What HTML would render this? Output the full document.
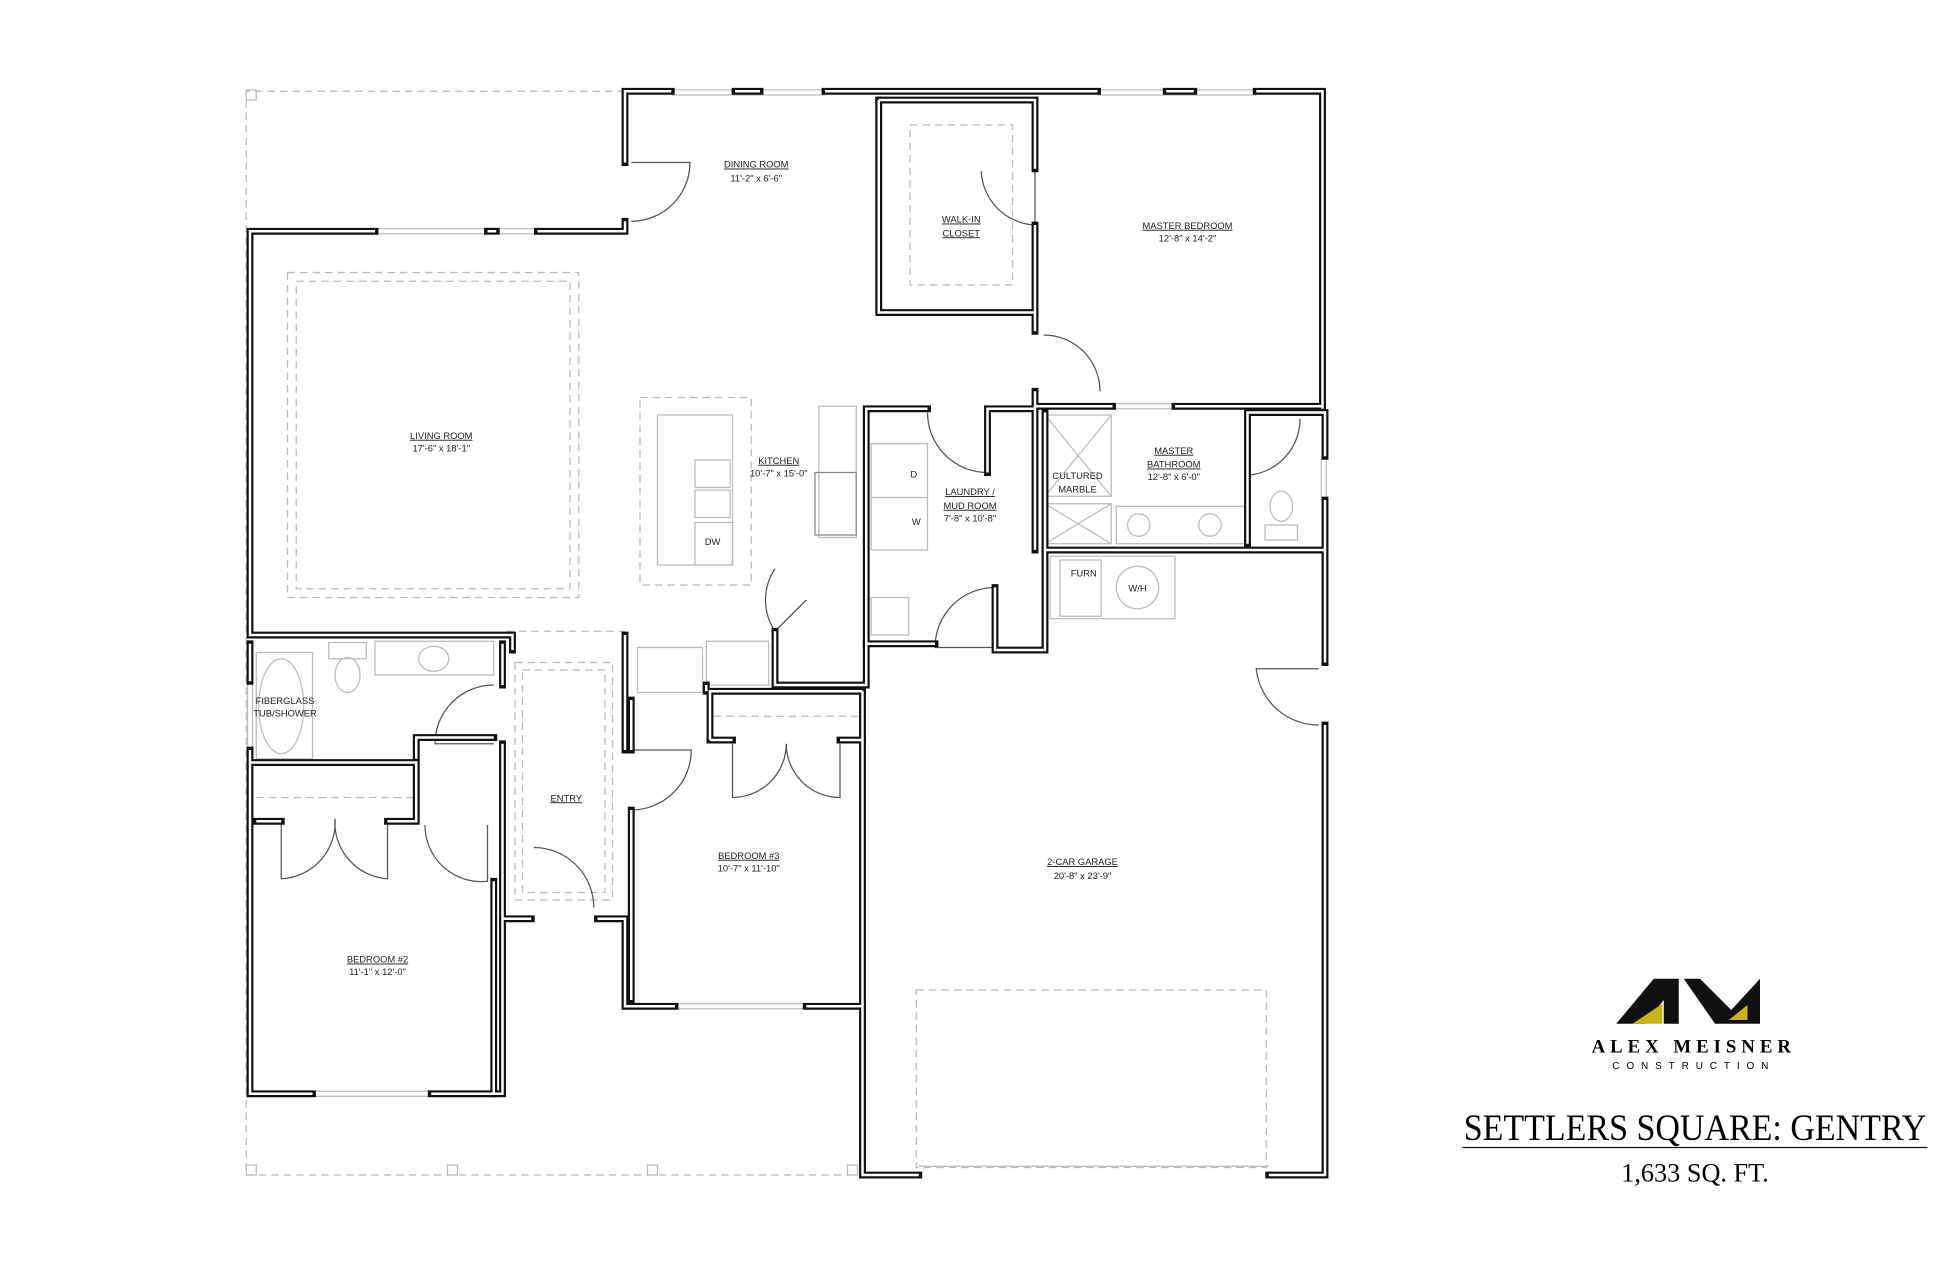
<!DOCTYPE html>
<html><head><meta charset="utf-8"><style>
html,body{margin:0;padding:0;background:#fff;}
svg{display:block;}
.l{font-size:7.5px;fill:#222;text-anchor:middle;font-family:"Liberation Sans",sans-serif;}
</style></head><body>
<svg width="1950" height="1262" viewBox="0 0 1560 1009.6" preserveAspectRatio="none" xmlns="http://www.w3.org/2000/svg" xmlns:xlink="http://www.w3.org/1999/xlink">
<rect width="1560" height="1010" fill="#fff"/>
<defs>
<g id="w">
<polyline points="537,73 500,73 500,130"/><polyline points="500,177 500,185 430,185"/><polyline points="300,185 200,185 200,508 410,508 410,520"/>
<line x1="588" y1="73" x2="608" y2="73"/><line x1="660" y1="73" x2="878" y2="73"/><line x1="933" y1="73" x2="955" y2="73"/>
<polyline points="1005,73 1058,73 1058,327"/><line x1="390" y1="185" x2="397" y2="185"/>
<polyline points="200,515 200,545"/><polyline points="200,600 200,875 250,875"/><polyline points="345,875 402,875 402,735 425,735"/>
<polyline points="478,735 500,735 500,805 540,805"/><polyline points="645,805 690,805 690,940 735,940"/><polyline points="1015,940 1060,940 1060,580"/>
<polyline points="1060,530 1060,400"/><polyline points="1060,365 1060,330 998,330 998,435"/>
<polyline points="703,80 703,250 828,250 828,265"/><polyline points="703,80 828,80 828,135"/><line x1="828" y1="180" x2="828" y2="250"/>
<polyline points="828,313 828,325 890,325"/><polyline points="940,325 1058,325"/>
<polyline points="836,330 836,520 796,520 796,470"/><line x1="836" y1="440" x2="1060" y2="440"/>
<polyline points="742,327 693,327 693,515 748,515"/><polyline points="790,378 790,327 828,327 828,440"/>
<polyline points="693,515 693,548 620,548 620,505"/><polyline points="565,548 565,553"/>
<polyline points="505,560 505,600"/><polyline points="505,648 505,800"/><line x1="690" y1="553" x2="690" y2="805"/>
<polyline points="568,592 568,553 690,553"/><line x1="568" y1="592" x2="586" y2="592"/><line x1="672" y1="592" x2="690" y2="592"/>
<polyline points="500,508 500,600"/><polyline points="402,515 402,548"/><polyline points="402,595 402,735"/>
<polyline points="200,610 333,610 333,657 310,657"/><line x1="205" y1="657" x2="225" y2="657"/>
<polyline points="395,705 395,875"/><polyline points="333,607 333,590 395,590"/>
</g>
</defs>
<!-- dashed porch / outlines -->
<g fill="none" stroke="#bbb" stroke-width="1" stroke-dasharray="6,4">
<polyline points="500,73 197,73 197,940 690,940"/>
<rect x="230" y="218" width="233" height="260"/><rect x="237" y="225" width="219" height="246"/>
<rect x="512" y="318" width="89" height="150"/>
<rect x="412" y="530" width="78" height="190"/><rect x="418" y="536" width="66" height="178"/>
<rect x="733" y="792" width="280" height="142"/>
<rect x="728" y="100" width="82" height="128"/>
<line x1="205" y1="638" x2="333" y2="638"/><line x1="571" y1="573" x2="688" y2="573"/>
<line x1="405" y1="505" x2="500" y2="505"/>
</g>
<g fill="none" stroke="#bbb" stroke-width="1">
<rect x="197" y="72" width="8" height="8"/><rect x="197" y="932" width="8" height="8"/><rect x="358" y="932" width="8" height="8"/><rect x="518" y="932" width="8" height="8"/><rect x="678" y="932" width="8" height="8"/>
<line x1="537" y1="72" x2="660" y2="72"/><line x1="537" y1="76" x2="660" y2="76"/>
<line x1="878" y1="72" x2="1005" y2="72"/><line x1="878" y1="76" x2="1005" y2="76"/>
<line x1="300" y1="183" x2="430" y2="183"/><line x1="300" y1="187" x2="430" y2="187"/>
<line x1="250" y1="873" x2="345" y2="873"/><line x1="250" y1="877" x2="345" y2="877"/>
<line x1="540" y1="803" x2="645" y2="803"/><line x1="540" y1="807" x2="645" y2="807"/>
<line x1="198" y1="545" x2="198" y2="600"/><line x1="202" y1="545" x2="202" y2="600"/>
<line x1="1057" y1="365" x2="1057" y2="400"/><line x1="1061" y1="365" x2="1061" y2="400"/>
<line x1="890" y1="323" x2="940" y2="323"/><line x1="890" y1="327" x2="940" y2="327"/>
<line x1="735" y1="933" x2="1015" y2="933"/>
<rect x="526" y="332" width="60" height="120"/><rect x="556" y="368" width="28" height="22"/><rect x="556" y="392" width="28" height="22"/><rect x="556" y="418" width="30" height="34"/>
<rect x="655" y="325" width="30" height="105"/><rect x="652" y="378" width="33" height="50" stroke="#888"/>
<rect x="697" y="355" width="45" height="85"/><line x1="697" y1="398" x2="742" y2="398"/>
<rect x="697" y="478" width="30" height="30"/>
<rect x="836" y="332" width="53" height="65"/><line x1="836" y1="332" x2="889" y2="397"/><line x1="889" y1="332" x2="836" y2="397"/>
<rect x="836" y="403" width="53" height="32"/><line x1="836" y1="403" x2="889" y2="435"/><line x1="889" y1="403" x2="836" y2="435"/>
<rect x="893" y="405" width="103" height="30"/>
<circle cx="911" cy="420" r="9"/><circle cx="968" cy="420" r="9"/>
<ellipse cx="1025" cy="405" rx="9" ry="12"/><rect x="1012" y="420" width="26" height="12"/>
<rect x="848" y="448" width="33" height="45"/><circle cx="910" cy="470" r="17"/><rect x="840" y="445" width="100" height="50"/>
<ellipse cx="225" cy="565" rx="18" ry="38"/><rect x="205" y="522" width="45" height="85"/>
<ellipse cx="278" cy="540" rx="10" ry="14"/><rect x="263" y="514" width="30" height="13"/>
<rect x="300" y="513" width="95" height="27"/><ellipse cx="347" cy="527" rx="12" ry="10"/>
<rect x="510" y="518" width="52" height="36"/><rect x="565" y="513" width="50" height="35"/>
</g>
<g fill="none" stroke="#555" stroke-width="1">
<path d="M505,130 L552,130 A47,47 0 0 1 505,177"/>
<path d="M828,135 L828,180 A45,45 0 0 1 785,137"/>
<path d="M835,268 A45,45 0 0 1 880,313"/>
<path d="M742,330 A48,48 0 0 0 790,378 L790,330"/>
<path d="M1040,335 A45,45 0 0 1 1000,380"/>
<path d="M796,470 A48,48 0 0 0 748,518 L796,518"/>
<path d="M1055,535 L1005,535 A50,50 0 0 0 1055,580"/>
<path d="M395,548 A47,47 0 0 0 348,595 L395,595"/>
<path d="M340,660 A45,45 0 0 0 390,705 L390,660"/>
<path d="M505,600 L553,600 A48,48 0 0 1 505,648"/>
<path d="M427,678 A48,48 0 0 1 475,726"/>
<path d="M225,655 L225,703 A45,45 0 0 0 268,655 A45,45 0 0 0 310,703 L310,655"/>
<path d="M586,595 L586,638 A43,43 0 0 0 629,595 A43,43 0 0 0 672,638 L672,595"/>
<path d="M620,455 A45,45 0 0 0 620,505 L645,480"/>
</g>
<g fill="none" stroke="#111" stroke-width="5.5" stroke-linecap="square"><use href="#w" xlink:href="#w"/></g>
<g fill="none" stroke="#fff" stroke-width="2" stroke-linecap="butt"><use href="#w" xlink:href="#w"/></g>
<g class="l">
<text x="605" y="134" text-decoration="underline">DINING ROOM</text><text x="605" y="145">11'-2" x 6'-6"</text>
<text x="769" y="178" text-decoration="underline">WALK-IN</text><text x="769" y="189" text-decoration="underline">CLOSET</text>
<text x="950" y="183" text-decoration="underline">MASTER BEDROOM</text><text x="950" y="193">12'-8" x 14'-2"</text>
<text x="353" y="351" text-decoration="underline">LIVING ROOM</text><text x="353" y="361">17'-6" x 18'-1"</text>
<text x="623" y="371" text-decoration="underline">KITCHEN</text><text x="623" y="381">10'-7" x 15'-0"</text>
<text x="776" y="396" text-decoration="underline">LAUNDRY /</text><text x="776" y="407" text-decoration="underline">MUD ROOM</text><text x="776" y="417">7'-8" x 10'-8"</text>
<text x="862" y="383">CULTURED</text><text x="862" y="394">MARBLE</text>
<text x="939" y="363" text-decoration="underline">MASTER</text><text x="939" y="374" text-decoration="underline">BATHROOM</text><text x="939" y="384">12'-8" x 6'-0"</text>
<text x="731" y="382">D</text><text x="733" y="420">W</text><text x="570" y="436">DW</text>
<text x="867" y="461">FURN</text><text x="910" y="473">W/H</text>
<text x="228" y="563">FIBERGLASS</text><text x="228" y="573">TUB/SHOWER</text>
<text x="453" y="641" text-decoration="underline">ENTRY</text>
<text x="599" y="687" text-decoration="underline">BEDROOM #3</text><text x="599" y="697">10'-7" x 11'-10"</text>
<text x="866" y="692" text-decoration="underline">2-CAR GARAGE</text><text x="866" y="703">20'-8" x 23'-9"</text>
<text x="302" y="770" text-decoration="underline">BEDROOM #2</text><text x="302" y="780">11'-1" x 12'-0"</text>
</g>
<polygon points="1293,819 1323,783 1343,783 1343,819 1331,819 1331,800 1316,819" fill="#111"/>
<polygon points="1306,819 1330,819 1330,803" fill="#c9b31c"/>
<polygon points="1347,783 1360,783 1385,808 1408,783 1408,819 1372,819" fill="#111"/>
<polygon points="1383,816 1398,816 1398,804" fill="#c9b31c"/>
<text x="1355" y="842" style="font-family:'Liberation Serif',serif;font-size:15px;font-weight:bold;letter-spacing:4px" text-anchor="middle">ALEX MEISNER</text>
<text x="1355" y="855" style="font-family:'Liberation Sans',sans-serif;font-size:8px;letter-spacing:5.5px" text-anchor="middle">CONSTRUCTION</text>
<text x="1356" y="912" style="font-family:'Liberation Serif',serif;font-size:30px" text-anchor="middle" textLength="370" lengthAdjust="spacingAndGlyphs">SETTLERS SQUARE: GENTRY</text>
<line x1="1170" y1="918" x2="1542" y2="918" stroke="#111" stroke-width="1"/>
<text x="1356" y="945" style="font-family:'Liberation Serif',serif;font-size:21px" text-anchor="middle">1,633 SQ. FT.</text>
</svg>
</body></html>
